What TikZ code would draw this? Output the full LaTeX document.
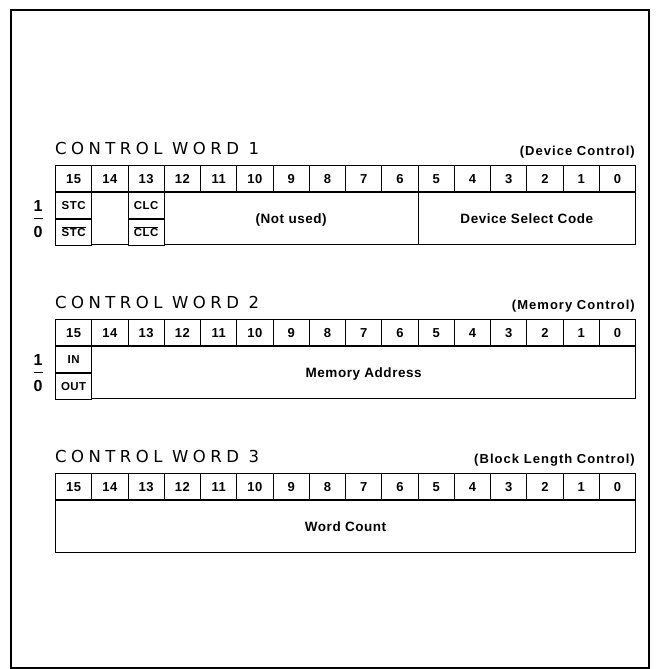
\documentclass[tikz,border=0pt]{standalone}
\usepackage{fontspec}
\setmainfont{Liberation Sans}
\newfontfamily\titlefont[LetterSpace=27]{DejaVu Sans}
\newfontfamily\labelfont[LetterSpace=4]{Liberation Sans}
\newfontfamily\notefont[LetterSpace=8]{Liberation Sans}
\usetikzlibrary{positioning, calc}

\tikzset{
  bitcell/.style={rectangle, draw, line width=1.1pt, anchor=north west,
    minimum width=36.25pt, minimum height=26pt, inner sep=0pt,
    text height=9.4pt, text depth=0pt,
    font=\labelfont\bfseries\fontsize{13}{13}\selectfont},
  field/.style={rectangle, draw, line width=1.1pt, anchor=north west,
    minimum width=#1*36.25pt, minimum height=52pt, inner sep=0pt,
    text height=9.7pt, text depth=0pt,
    font=\labelfont\bfseries\fontsize{13.5}{13.5}\selectfont},
  field/.default=1,
  halffield/.style={field=1, minimum height=26pt, text height=8.3pt,
    font=\labelfont\bfseries\fontsize{11.5}{11.5}\selectfont},
  wordtitle/.style={anchor=base west, inner sep=0pt,
    font=\titlefont\fontsize{16.5}{16.5}\selectfont},
  wordnote/.style={anchor=base east, inner sep=0pt,
    font=\notefont\bfseries\fontsize{13}{13}\selectfont},
  levelmark/.style={inner sep=0pt,
    font=\labelfont\bfseries\fontsize{16}{16}\selectfont},
  levelbar/.style={line width=1.2pt},
  frame/.style={line width=1.6pt}
}

\begin{document}
\begin{tikzpicture}[x=1pt, y=-1pt]
  \useasboundingbox (0,0) rectangle (657,669);
  \draw[frame] (11,10) rectangle (649,668);

  % title, note and bit numbers of each word
  \foreach \w/\wy/\wnote in {1/165/(Device Control), 2/319/(Memory Control),
      3/473/(Block Length Control)} {
    \node[wordtitle] (title\w) at (55,\wy-11) {CONTROL WORD \w};
    \node[wordnote] (note\w) at (635,\wy-10) {\wnote};
    \foreach \b in {15,...,0}
      \node[bitcell] (w\w-\b) at ({55+(15-\b)*36.25},\wy) {\b};
  }

  % word 1
  \node[halffield] (stc) at (w1-15.south west) {STC};
  \node[halffield] (nstc) at (stc.south west) {$\overline{\mbox{STC}}$};
  \node[field] (gap14) at (w1-14.south west) {};
  \node[halffield] (clc) at (w1-13.south west) {CLC};
  \node[halffield] (nclc) at (clc.south west) {$\overline{\mbox{CLC}}$};
  \node[field=7] (notused) at (w1-12.south west) {(Not used)};
  \node[field=6] (devsel) at (w1-5.south west) {Device Select Code};

  % word 2
  \node[halffield] (in) at (w2-15.south west) {IN};
  \node[halffield] (out) at (in.south west) {OUT};
  \node[field=15] (memaddr) at (w2-14.south west) {Memory Address};

  % word 3
  \node[field=16] (wcount) at (w3-15.south west) {Word Count};

  % 1 / 0 marks
  \foreach \f in {stc, in} {
    \node[levelmark, left=17pt of \f.south west, anchor=south, yshift=8pt] (hi-\f) {1};
    \node[levelmark, left=17pt of \f.south west, anchor=north, yshift=-7pt] (lo-\f) {0};
    \draw[levelbar] ($(hi-\f.south)!.5!(lo-\f.north)+(-4.5,0)$)
      -- ($(hi-\f.south)!.5!(lo-\f.north)+(4.5,0)$);
  }
\end{tikzpicture}
\end{document}
